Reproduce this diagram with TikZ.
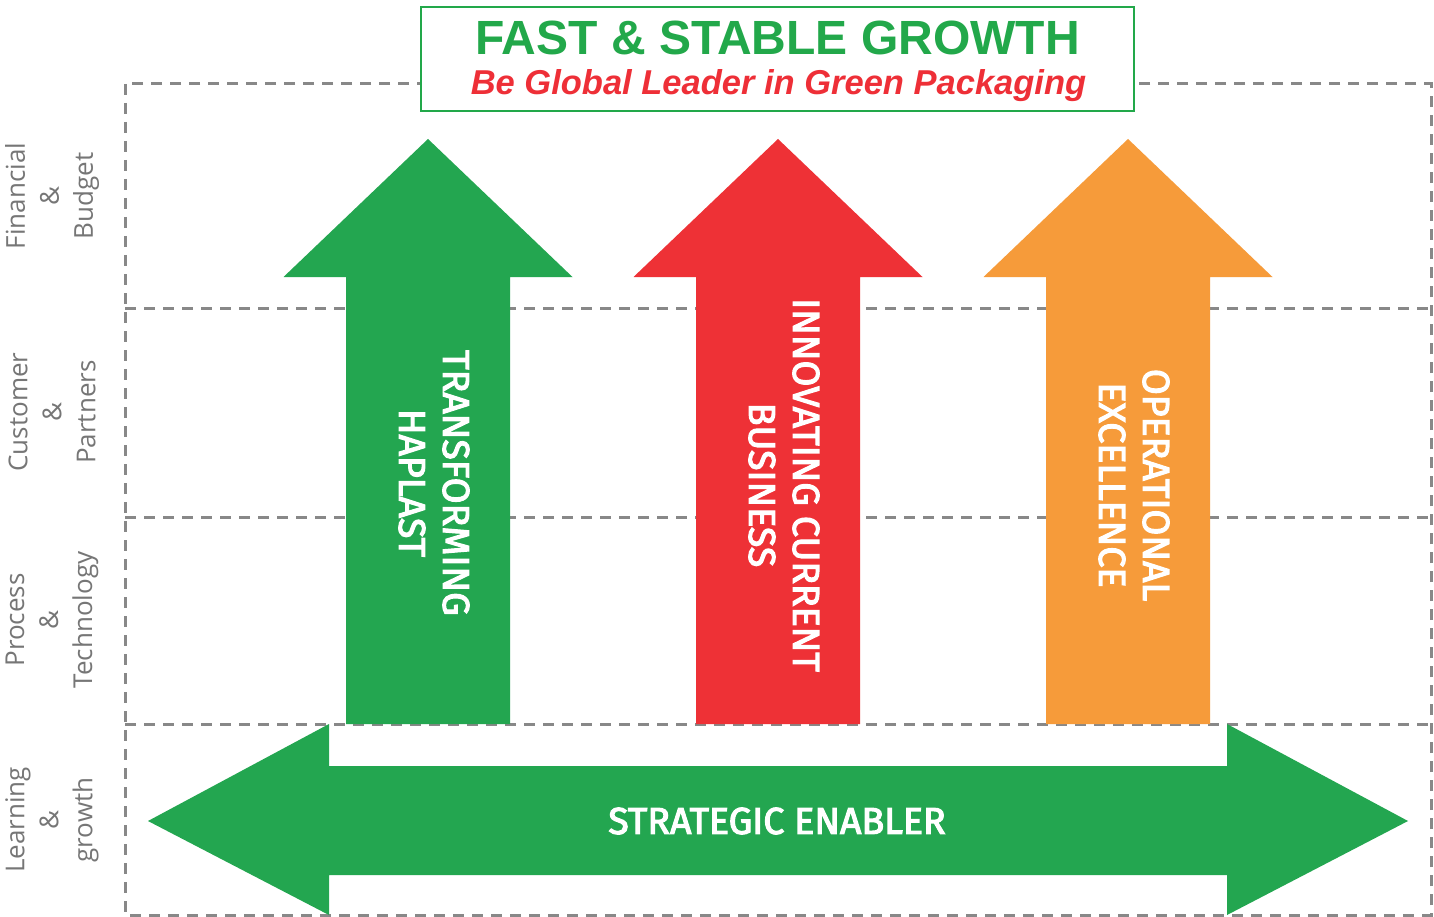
\documentclass[tikz,border=0pt]{standalone}
\usepackage{fontspec}
\newfontfamily\titlefont{Liberation Sans}
\newfontfamily\arrowfont{Fira Sans}[FakeBold=3]
\newfontfamily\sidefont{Open Sans}
\definecolor{hgreen}{RGB}{35,166,80}
\definecolor{hred}{RGB}{238,49,54}
\definecolor{horange}{RGB}{246,155,58}
\definecolor{tgreen}{RGB}{34,168,74}
\definecolor{tred}{RGB}{238,47,55}
\definecolor{dashgray}{RGB}{136,136,136}
\definecolor{sidegray}{RGB}{118,118,118}
\tikzset{
  gridline/.style={draw=dashgray, line width=3pt, dash pattern=on 11pt off 8pt},
  sidelabel/.style={rotate=90, align=center, text=sidegray, font=\sidefont\fontsize{26}{34}\selectfont, inner sep=0pt},
  arrowlabel/.style={rotate=-90, align=center, text=white, font=\arrowfont\fontsize{37.5}{44}\selectfont, inner sep=0pt},
}
\begin{document}
\begin{tikzpicture}[x=1pt,y=-1pt]
\useasboundingbox (0,0) rectangle (1434,917);
\fill[white] (0,0) rectangle (1434,917);
% dashed grid
\draw[gridline] (125,84) rectangle (1431,915);
\draw[gridline] (125,308) -- (1431,308);
\draw[gridline] (125,517) -- (1431,517);
\draw[gridline] (125,724) -- (1431,724);
% title box
\node[draw=tgreen, line width=2.5pt, fill=white, minimum width=713pt, minimum height=104pt, inner sep=0pt] (titlebox) at (777.5,59) {};
\node[anchor=base, text=tgreen, font=\titlefont\bfseries\fontsize{48}{58}\selectfont, inner sep=0pt] (title) at (777.5,55) {FAST \& STABLE GROWTH};
\node[anchor=base, text=tred, font=\titlefont\bfseries\itshape\fontsize{34.5}{40}\selectfont, inner sep=0pt] (subtitle) at (778.5,95) {Be Global Leader in Green Packaging};
% up arrows
\foreach \cx/\col in {428/hgreen, 778/hred, 1128/horange}{
  \fill[\col] (\cx,139) -- (\cx+144.5,277) -- (\cx+82,277) -- (\cx+82,724) -- (\cx-82,724) -- (\cx-82,277) -- (\cx-144.5,277) -- cycle;
}
% double arrow
\fill[hgreen] (148,821) -- (329,724) -- (329,766) -- (1227,766) -- (1227,724) -- (1408,821) -- (1227,915) -- (1227,875) -- (329,875) -- (329,915) -- cycle;
% arrow labels
\node[arrowlabel] (transf) at (434,483) {TRANSFORMING\\HAPLAST};
\node[arrowlabel] (innov) at (784,485) {INNOVATING CURRENT\\BUSINESS};
\node[arrowlabel] (opex) at (1134,485) {OPERATIONAL\\EXCELLENCE};
\node[text=white, font=\arrowfont\fontsize{37.5}{44}\selectfont, inner sep=0pt] (enabler) at (777,821) {STRATEGIC ENABLER};
% side labels
\node[sidelabel] (fin) at (52,196) {Financial\\\&\\Budget};
\node[sidelabel] (cust) at (52,412) {Customer\\\&\\Partners};
\node[sidelabel] (proc) at (52,620) {Process\\\&\\Technology};
\node[sidelabel] (learn) at (52,820) {Learning\\\&\\growth};
\end{tikzpicture}
\end{document}
